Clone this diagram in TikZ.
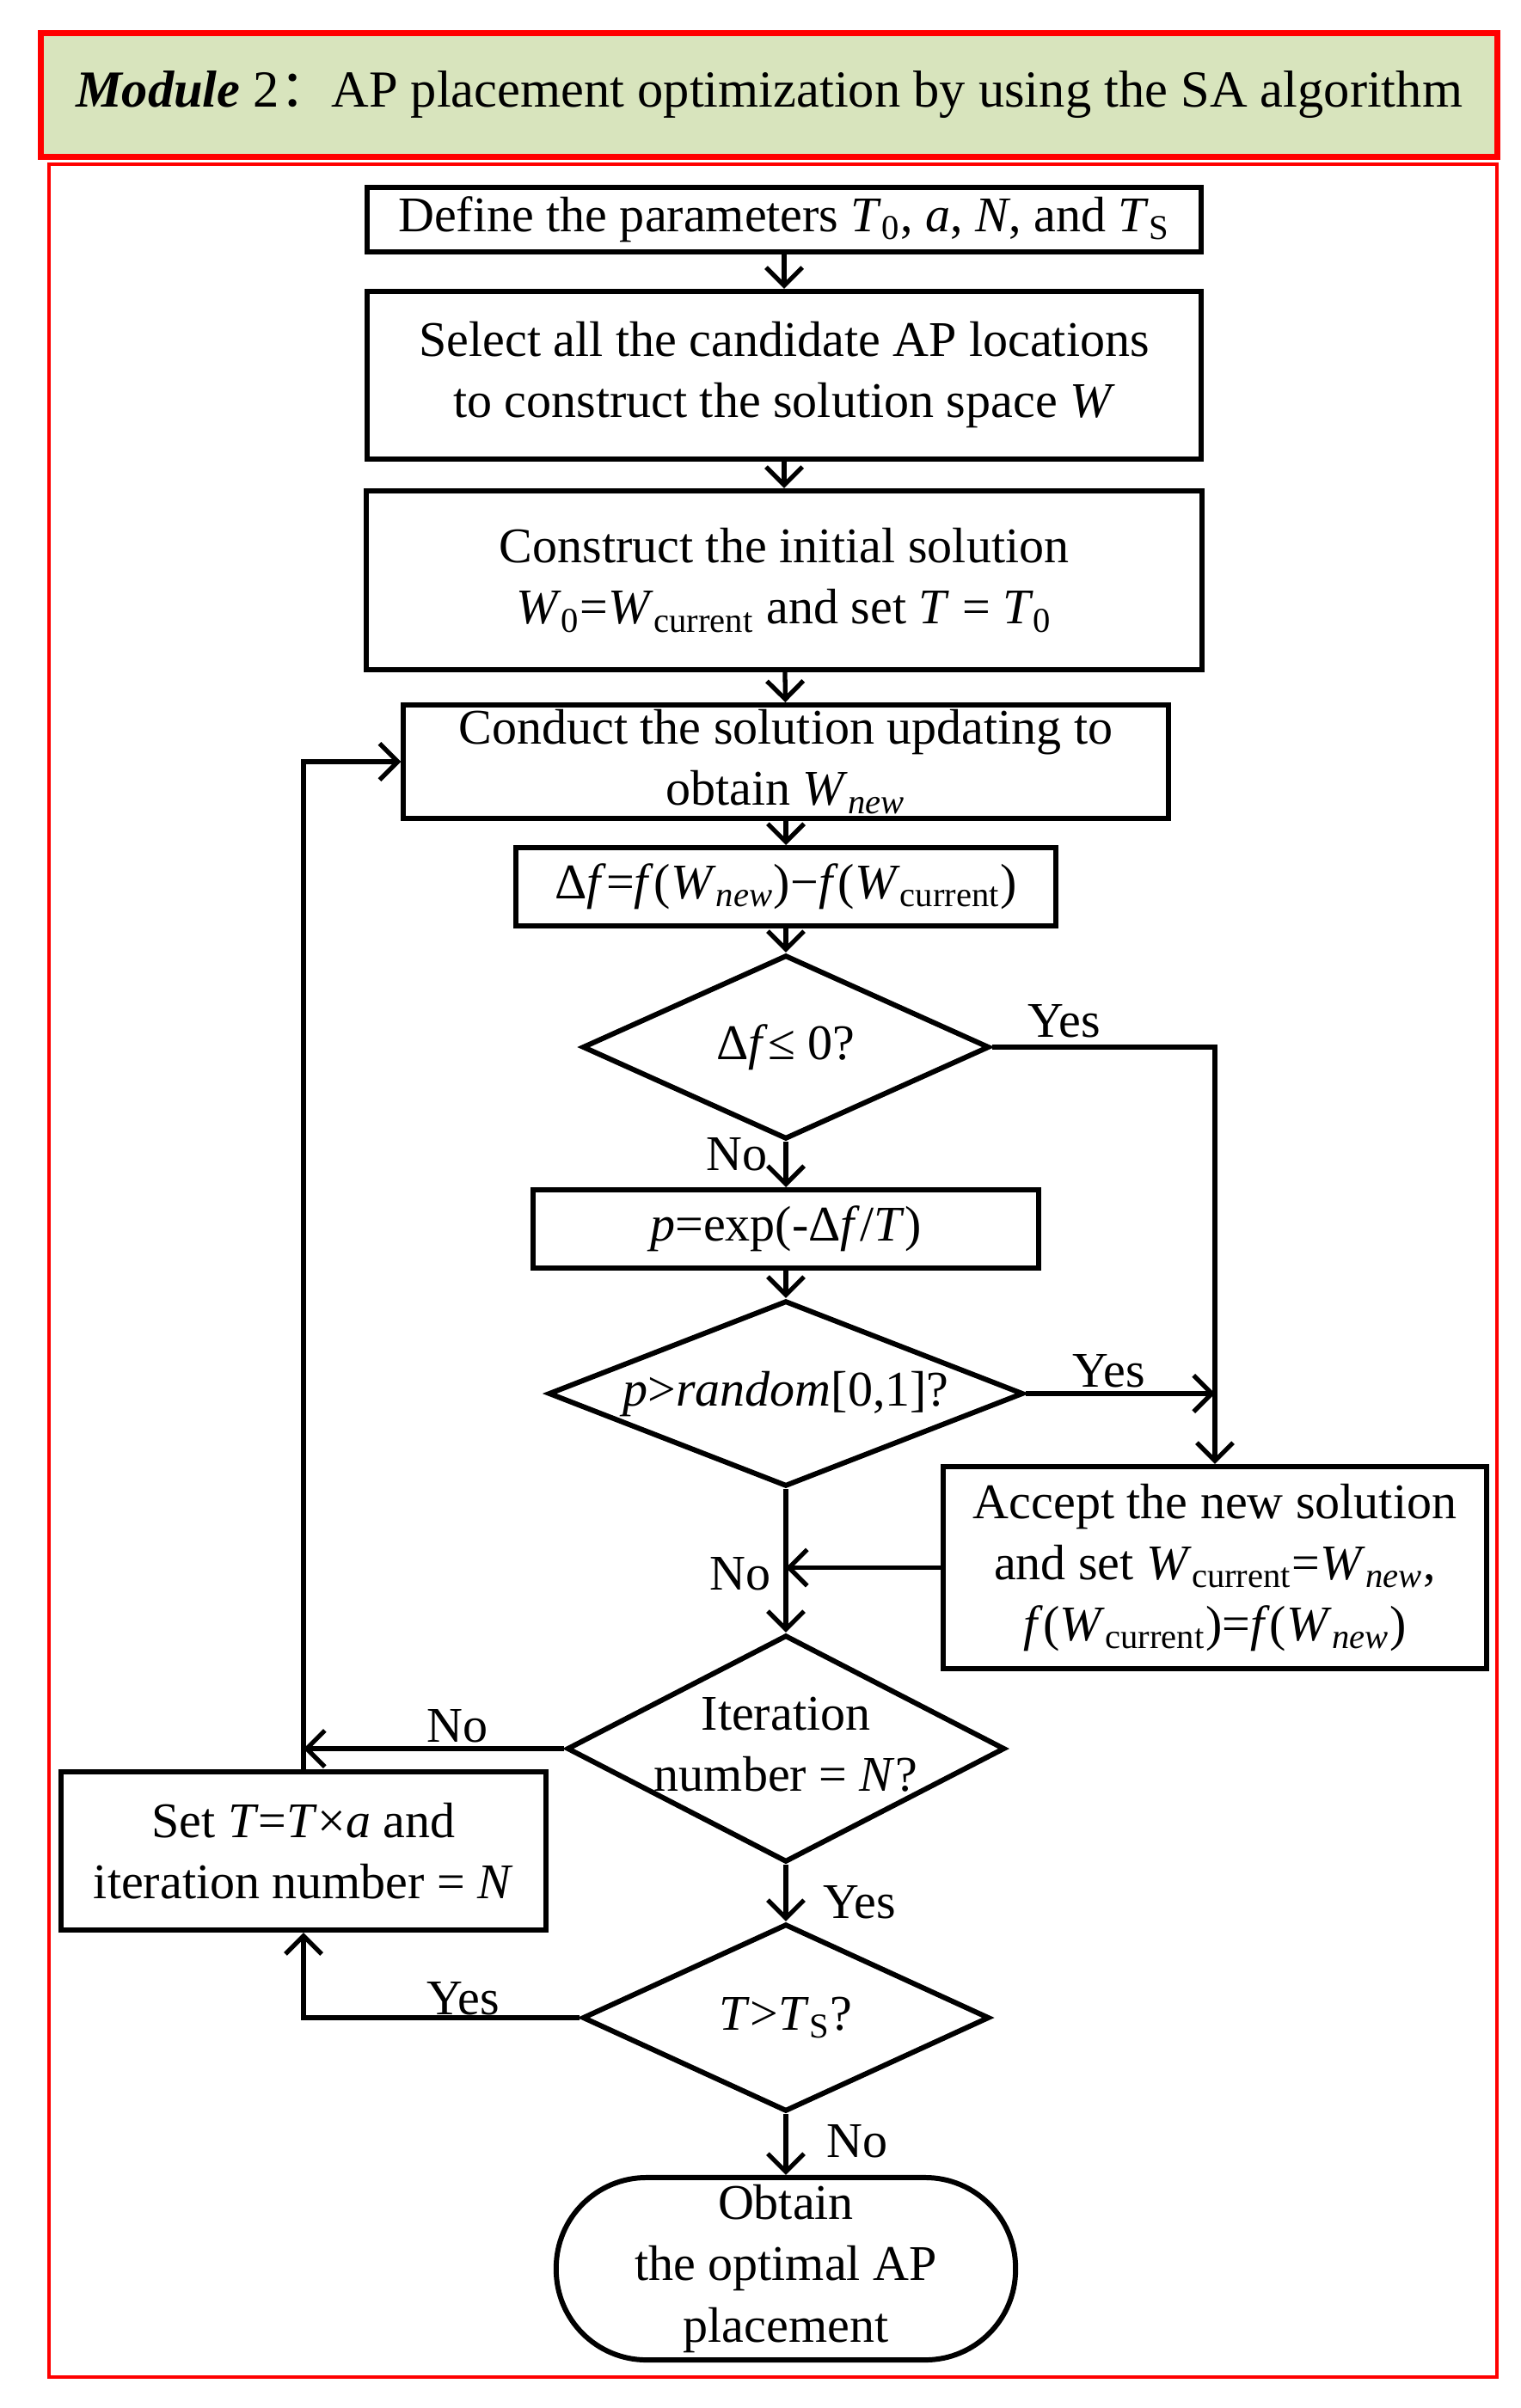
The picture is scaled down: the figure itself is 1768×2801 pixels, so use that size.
\documentclass[tikz,border=0pt]{standalone}
\usepackage{fontspec}
\setmainfont{Liberation Serif}
\newfontfamily\cjk{Noto Sans CJK SC}
\usetikzlibrary{arrows.meta, positioning, shapes.geometric}
\definecolor{titlegreen}{RGB}{216,228,189}
\newcommand{\lo}[1]{\textsubscript{#1}}
\newcommand{\vr}[1]{\textit{#1}}
\newcommand{\nowidth}[1]{\makebox[0pt]{\begin{tabular}{@{}c@{}}#1\end{tabular}}}

\begin{document}
\begin{tikzpicture}[x=0.01cm, y=-0.01cm,
  every node/.style={font=\fontsize{16.5}{20.2}\selectfont},
  box/.style={draw, line width=1.7pt, align=center, inner sep=0pt},
  dec/.style={draw, diamond, line width=1.7pt, inner sep=0pt},
  arr/.style={-{Straight Barb[length=6pt,width=12pt]}, line width=1.5pt},
  lab/.style={inner sep=0pt}]
\useasboundingbox (0,0) rectangle (1768,2801);

% title and frame
\node[draw=red, fill=titlegreen, line width=2pt, inner sep=0pt, minimum width=16.93cm, minimum height=1.43cm,
  font=\fontsize{17.2}{20.2}\selectfont] (title) at (894.5,110.5)
  {\raisebox{-2pt}{\textbf{\textit{Module}} 2{\cjk ：}AP placement optimization by using the SA algorithm}};
\draw[red, line width=1.4pt] (57,191) rectangle (1741,2765);

% main column
\node[box, minimum width=9.7cm, minimum height=0.75cm] (define) at (912,255.5)
  {Define the parameters \vr{T}\lo{0}, \vr{a}, \vr{N}, and \vr{T}\lo{S}};
\node[box, minimum width=9.7cm, minimum height=1.95cm] (select) at (912,436.5)
  {Select all the candidate AP locations\\to construct the solution space \vr{W}};
\node[box, minimum width=9.72cm, minimum height=2.08cm] (construct) at (912,675)
  {Construct the initial solution\\\vr{W}\lo{0}=\vr{W}\lo{current} and set \vr{T} = \vr{T}\lo{0}};
\node[box, minimum width=8.89cm, minimum height=1.32cm] (conduct) at (914,886)
  {Conduct the solution updating to\\obtain \vr{W}\lo{\vr{new}}};
\node[box, minimum width=6.27cm, minimum height=0.91cm] (delta) at (914,1031.5)
  {Δ\vr{f}=\vr{f}(\vr{W}\lo{\vr{new}})−\vr{f}(\vr{W}\lo{current})};
\node[dec, minimum width=4.73cm, minimum height=2.14cm] (d1) at (914,1218)
  {\nowidth{Δ\vr{f}≤ 0?}};
\node[box, minimum width=5.88cm, minimum height=0.91cm] (prob) at (914,1429.5)
  {\vr{p}=exp(-Δ\vr{f}/\vr{T})};
\node[dec, minimum width=5.52cm, minimum height=2.16cm] (d2) at (914,1621)
  {\nowidth{\vr{p}>\vr{random}[0,1]?}};
\node[box, minimum width=6.32cm, minimum height=2.35cm] (accept) at (1413,1823.5)
  {Accept the new solution\\and set \vr{W}\lo{current}=\vr{W}\lo{\vr{new}},\\\vr{f}(\vr{W}\lo{current})=\vr{f}(\vr{W}\lo{\vr{new}})};
\node[dec, minimum width=5.09cm, minimum height=2.64cm] (d3) at (914,2034)
  {\nowidth{Iteration\\number = \vr{N}?}};
\node[box, minimum width=5.63cm, minimum height=1.84cm] (setT) at (353,2153)
  {Set \vr{T}=\vr{T}×\vr{a} and\\iteration number = \vr{N}};
\node[dec, minimum width=4.73cm, minimum height=2.18cm] (d4) at (914,2347)
  {\nowidth{\vr{T}>\vr{T}\lo{S}?}};
\node[box, rounded corners=1.05cm, minimum width=5.34cm, minimum height=2.12cm] (obtain) at (914,2639)
  {Obtain\\the optimal AP\\placement};

% connectors
\draw[arr] (define) -- (select);
\draw[arr] (select) -- (construct);
\draw[arr] (construct) -- (conduct);
\draw[arr] (conduct) -- (delta);
\draw[arr] (delta) -- (d1);
\draw[arr] (d1) -- (prob);
\draw[arr] (prob) -- (d2);
\draw[arr] (d1.east) -| (accept.north);
\draw[arr] (d2.east) -- (d2.east -| accept.north);
\draw[arr] (d2) -- (d3);
\draw[arr] (accept.west) -- (accept.west -| d2.south);
\draw[arr] (d3.west) -- (d3.west -| setT.north);
\draw[arr] (setT.north) |- (conduct.west);
\draw[arr] (d3) -- (d4);
\draw[arr] (d4.west) -| (setT.south);
\draw[arr] (d4) -- (obtain);

% branch labels
\node[lab] (yes1) at (1238,1188) {Yes};
\node[lab] (no1) at (857,1343) {No};
\node[lab] (yes2) at (1290,1595) {Yes};
\node[lab] (no2) at (861,1831) {No};
\node[lab] (no3) at (532,2008) {No};
\node[lab] (yes3) at (1000,2213) {Yes};
\node[lab] (yes4) at (539,2325) {Yes};
\node[lab] (no4) at (997,2491) {No};
\end{tikzpicture}
\end{document}
